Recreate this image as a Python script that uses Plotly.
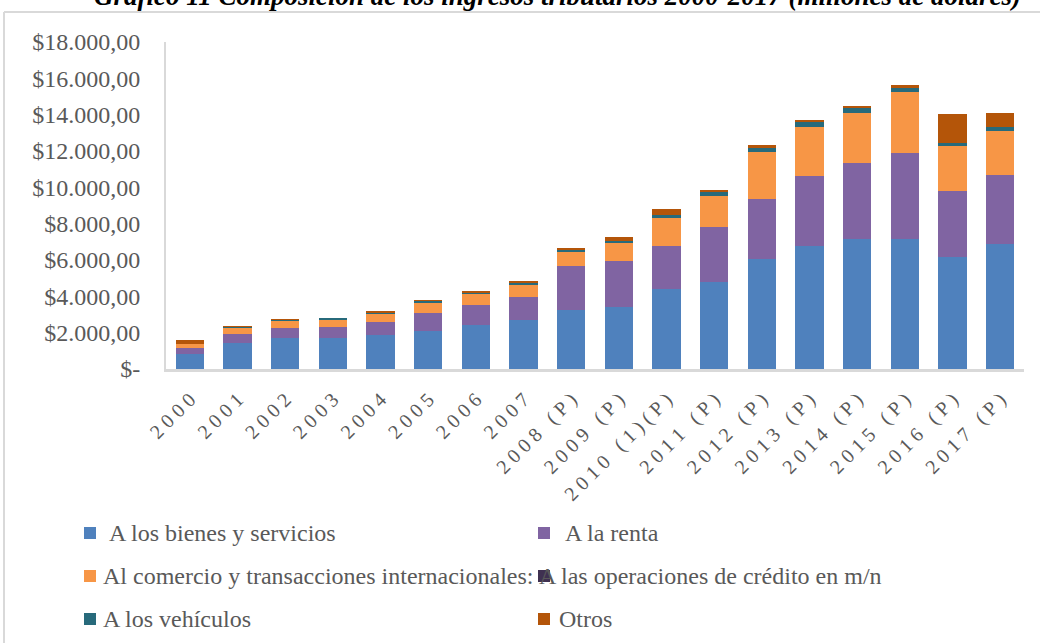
import plotly.graph_objects as go

# ---------------- data ----------------
years = ["2000", "2001", "2002", "2003", "2004", "2005", "2006", "2007",
         "2008 (P)", "2009 (P)", "2010 (1)(P)", "2011 (P)", "2012 (P)",
         "2013 (P)", "2014 (P)", "2015 (P)", "2016 (P)", "2017 (P)"]

bienes_servicios = [830, 1433, 1725, 1725, 1873, 2094, 2424, 2700, 3251, 3416,
                    4408, 4794, 6061, 6794, 7163, 7163, 6171, 6904]
renta = [330, 496, 534, 589, 717, 992, 1102, 1267, 2424, 2535,
         2369, 3030, 3306, 3840, 4188, 4739, 3637, 3785]
comercio_exterior = [215, 347, 402, 403, 457, 567, 607, 645, 810, 975,
                     1543, 1708, 2590, 2700, 2755, 3361, 2479, 2425]
operaciones_credito = [0, 0, 15, 15, 20, 15, 0, 0, 0, 0,
                       0, 0, 0, 0, 0, 0, 0, 0]
vehiculos = [0, 40, 65, 55, 70, 80, 55, 127, 72, 127,
             165, 221, 220, 259, 275, 220, 166, 182]
otros = [220, 30, 10, 0, 50, 15, 55, 55, 55, 204,
         331, 55, 127, 127, 110, 165, 1598, 810]

series_names = [" A los bienes y servicios", " A la renta",
                "Al comercio y transacciones internacionales:",
                "A las operaciones de crédito en m/n",
                "A los vehículos", "Otros"]
series_values = [bienes_servicios, renta, comercio_exterior,
                 operaciones_credito, vehiculos, otros]
series_colors = ["#4F81BD", "#8064A2", "#F79646", "#3F3151", "#276A7B", "#B45509"]

y_tickvals = [0, 2000, 4000, 6000, 8000, 10000, 12000, 14000, 16000, 18000]
y_ticktext = ["$-", "$2.000,00", "$4.000,00", "$6.000,00", "$8.000,00",
              "$10.000,00", "$12.000,00", "$14.000,00", "$16.000,00", "$18.000,00"]

title_text = "Gráfico 11 Composición de los ingresos tributarios 2000-2017 (millones de dólares)"

# ---------------- figure ----------------
W, H = 1040, 643
ML, MR, MT, MB = 166, 16, 42, 274
PW, PH = W - ML - MR, H - MT - MB


def px_x(x):
    return (x - ML) / PW


def px_y(y):
    return (H - MB - y) / PH


def spaced(s):
    # wide character spacing as in the reference tick labels
    return "\u00a0".join("\u00a0" if ch == " " else ch for ch in s)


fig = go.Figure()
for name, vals, col in zip(series_names, series_values, series_colors):
    fig.add_trace(go.Bar(x=years, y=vals, name=name.strip(),
                         marker=dict(color=col, line=dict(width=0)),
                         showlegend=False))

FONT = "Liberation Serif, Times New Roman, serif"
GRAY = "#595959"

fig.update_layout(
    width=W, height=H,
    margin=dict(l=ML, r=MR, t=MT, b=MB),
    barmode="stack", bargap=0.41,
    paper_bgcolor="white", plot_bgcolor="white",
    font=dict(family=FONT, color=GRAY),
    xaxis=dict(type="category", tickmode="array", tickvals=years,
               ticktext=[spaced(c) for c in years], tickangle=-45,
               tickfont=dict(family=FONT, size=20, color=GRAY),
               showline=True, linecolor="#D9D9D9", linewidth=3,
               showgrid=False, ticks="", ticklabelstandoff=8),
    yaxis=dict(range=[0, 18000], tickmode="array", tickvals=y_tickvals,
               ticktext=y_ticktext,
               tickfont=dict(family=FONT, size=24, color=GRAY),
               showline=True, linecolor="#D9D9D9", linewidth=2,
               showgrid=False, zeroline=False, ticks="", ticklabelstandoff=19),
)

# title (partially cut at the top, as in the reference)
fig.add_annotation(text="<b><i>" + title_text + "</i></b>", xref="paper", yref="paper",
                   x=px_x(557), y=px_y(13), xanchor="center", yanchor="bottom",
                   showarrow=False, font=dict(family=FONT, size=27, color="black"))

# outer frame lines
fig.add_shape(type="line", xref="paper", yref="paper", x0=px_x(4), x1=px_x(1045),
              y0=px_y(12), y1=px_y(12), line=dict(color="#D9D9D9", width=2))
fig.add_shape(type="line", xref="paper", yref="paper", x0=px_x(4), x1=px_x(4),
              y0=px_y(12), y1=px_y(650), line=dict(color="#D9D9D9", width=2))

# legend (two columns, three rows)
leg_pos = [(84, 533, 101), (538, 533, 557), (84, 576, 101),
           (538, 576, 537), (84, 619, 101), (538, 619, 557)]
for (mx, my, tx), name, col in zip(leg_pos, series_names, series_colors):
    fig.add_shape(type="rect", xref="paper", yref="paper",
                  x0=px_x(mx), x1=px_x(mx + 12), y0=px_y(my - 6), y1=px_y(my + 6),
                  fillcolor=col, line=dict(width=0))
    label = ("&nbsp;" + name[1:]) if name.startswith(" ") else name
    fig.add_annotation(text=label, xref="paper", yref="paper", x=px_x(tx), y=px_y(my),
                       xanchor="left", yanchor="middle", showarrow=False,
                       font=dict(family=FONT, size=24, color=GRAY))

fig.write_html("out.html", config={"displayModeBar": False},
               post_script="document.body.style.margin='0';document.body.style.padding='0';")
